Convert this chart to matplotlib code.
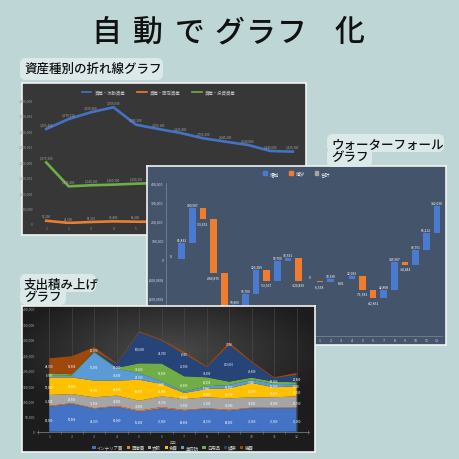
import numpy as np
import matplotlib.pyplot as plt
from matplotlib.patches import Patch, FancyBboxPatch
from matplotlib.lines import Line2D
from matplotlib.colors import LinearSegmentedColormap

plt.rcParams['font.family'] = ['Noto Sans CJK JP', 'DejaVu Sans']

# ── data ──────────────────────────────────────────────────────────────────────
months = list(range(1, 13))

# line chart (資産種別)
line_names = ['資産・流動資産', '資産・固定資産', '資産・投資資産']
asset_current = [3055420, 3375210, 3595880, 3755690, 3195300, 3055100,
                 2925400, 2755300, 2645200, 2540800, 2345600, 2325100]
asset_fixed = [95200, 25100, 55300, 75400, 65200, 60100,
               58300, 55200, 52100, 50400, 48200, 46300]
asset_invest = [1975300, 1205400, 1240100, 1260300, 1290200, 1310500,
                1330200, 1350400, 1360100, 1375300, 1390200, 1400100]

# waterfall (増加・減少)
wf_changes = [0, 85832, 180907, -59352, -280870, -226517, 59800, 56700,
              126289, -53567, 99700, 18591, -120839, 0, -6538, 18390,
              -801, 12983, -71581, -42831, 42808, 145907, -14443, 78791,
              86212, 142030]
wf_ticks = ['期首'] + [str(m) for m in months] + ['期首'] + [str(m) for m in months]
wf_legend = ['増加', '減少', '合計']

# stacked area (支出)
exp_names = ['インテリア費', '医療費', '衣服', '食費', '美容院', '日用品', '娯楽', '雑費']
interior = [81000, 90000, 74000, 81000, 65000, 76000, 68000, 74000, 68000, 76000, 76000, 76000]
medical = [3000, 2500, 2000, 3000, 3500, 4000, 2500, 2000, 3000, 2000, 1500, 2000]
clothes = [35000, 29500, 35500, 33000, 32000, 34700, 35500, 35500, 37000, 33500, 34000, 36700]
food = [57000, 54000, 54000, 48600, 68000, 40000, 19500, 27000, 32700, 46500, 32400, 32500]
beauty = [4700, 5800, 92000, 38000, 21700, 7500, 4400, 8700, 10800, 9700, 10900, 6500]
daily = [8700, 4300, 2100, 3200, 31400, 58500, 49800, 29200, 10800, 7600, 7500, 6500]
leisure = [0, 0, 2200, 13000, 100600, 74700, 72500, 32500, 119000, 49800, 10900, 23800]
misc = [48700, 58500, 12000, 2200, 3300, 3200, 6500, 3200, 7600, 3300, 3200, 6500]

title_chars = ['自', '動', 'で', 'グ', 'ラ', 'フ', '化']

# ── figure helpers (positions in pixels of the 460x460 canvas) ─────────────────
W = H = 460
BG = '#bed6d6'
BOX = '#dce9e9'
OFFICE = ['#4472C4', '#ED7D31', '#A5A5A5', '#FFC000',
          '#5B9BD5', '#70AD47', '#264478', '#9E480E']

fig = plt.figure(figsize=(4.6, 4.6), dpi=100)
fig.patch.set_facecolor(BG)


def px_axes(x0, y0, x1, y1, z):
    ax = fig.add_axes([x0 / W, 1 - y1 / H, (x1 - x0) / W, (y1 - y0) / H])
    ax.set_zorder(z)
    return ax


def panel(x0, y0, x1, y1, z, color):
    ax = px_axes(x0, y0, x1, y1, z)
    ax.set_facecolor(color)
    ax.set_xticks([])
    ax.set_yticks([])
    for s in ax.spines.values():
        s.set_color('#f2f2f2')
        s.set_linewidth(1.2)
    return ax


def plot_area(x0, y0, x1, y1, z):
    ax = px_axes(x0, y0, x1, y1, z)
    ax.patch.set_visible(False)
    for s in ax.spines.values():
        s.set_visible(False)
    return ax


def box(x0, y0, x1, y1):
    fig.patches.append(FancyBboxPatch(
        (x0 / W, 1 - y1 / H), (x1 - x0) / W, (y1 - y0) / H,
        boxstyle=f'round,pad=0,rounding_size={6 / W}', transform=fig.transFigure,
        fc=BOX, ec='none', zorder=19))


def caption(x, y, text, size=9):
    fig.text(x / W, 1 - y / H, text, fontsize=size, fontweight='medium',
             ha='left', va='center', color='#111111', zorder=21)


# ── title ─────────────────────────────────────────────────────────────────────
for ch, cx in zip(title_chars, [106, 148, 190, 229, 261, 292, 349]):
    fig.text(cx / W, 1 - 33 / H, ch, fontsize=21.5, ha='center', va='center',
             color='#111111', fontweight='medium')

# ── 1. line chart ─────────────────────────────────────────────────────────────
panel(22, 84, 306, 236, 1, '#373737')
ax1 = plot_area(35, 100.7, 304, 224.7, 1.5)
line_series = [asset_current, asset_fixed, asset_invest]
line_cols = ['#4472C4', '#ED7D31', '#70AD47']
for vals, col in zip(line_series, line_cols):
    ax1.plot(months, vals, color=col, lw=1.9, solid_joinstyle='round')
    for m, v in zip(months, vals):
        # labels that sit under the waterfall panel are not visible; skip them
        x_px = 35 + (m - 0.5) / 12 * 269
        y_px = 224.7 - v / 4000000 * 124
        if x_px > 140 and y_px > 160:
            continue
        ax1.annotate(f'{v:,}', (m, v), xytext=(0, 2.2), textcoords='offset points',
                     ha='center', va='bottom', fontsize=2.2, color='#a8a8a8')
ax1.set_xlim(0.5, 12.5)
ax1.set_ylim(0, 4000000)
ax1.set_xticks(months)
ax1.set_yticks(np.arange(0, 4000001, 500000))
ax1.set_yticklabels([f'{v:,}' for v in range(0, 4000001, 500000)])
ax1.tick_params(length=0, labelsize=2.4, colors='#9a9a9a', pad=1.5)
ax1.legend([Line2D([], [], color=c, lw=1.2) for c in line_cols], line_names,
           loc='center', bbox_to_anchor=(0.46, 1.065), ncol=3, fontsize=3.2,
           frameon=False, labelcolor='#bdbdbd', handlelength=2.2, columnspacing=2.5)

# ── 2. waterfall ──────────────────────────────────────────────────────────────
panel(147, 167, 446, 346, 2, '#44546A')
ax2 = plot_area(165.7, 183.5, 442.3, 337, 2.5)
chg = np.array(wf_changes)
cum = np.cumsum(chg)
start = cum - chg
pos = np.arange(len(chg))
cols = ['#4A7BD0' if c >= 0 else '#F07D2E' for c in chg]
ax2.bar(pos, chg, bottom=start, width=0.62, color=cols)
for p, c, e in zip(pos, chg, cum):
    txt = f'{c:,}'
    if c >= 0:
        ax2.annotate(txt, (p, e), xytext=(0, 1.2), textcoords='offset points',
                     ha='center', va='bottom', fontsize=2.4, color='white')
    else:
        ax2.annotate(txt, (p, e), xytext=(0, -1.2), textcoords='offset points',
                     ha='center', va='top', fontsize=2.4, color='white')
ax2.set_xlim(-0.5, len(chg) - 0.5)
ax2.set_ylim(-400000, 400000)
ax2.set_xticks(pos)
ax2.set_xticklabels(wf_ticks)
yt = np.arange(-400000, 400001, 100000)
ax2.set_yticks(yt)
ax2.set_yticklabels([f'({abs(v):,})' if v < 0 else f'{v:,}' for v in yt])
ax2.tick_params(length=0, labelsize=2.6, colors='#d8dde5', pad=1.5)
for side in ['left', 'bottom']:
    ax2.spines[side].set_visible(True)
    ax2.spines[side].set_color('#7d8a9c')
    ax2.spines[side].set_linewidth(0.5)
ax2.legend([Patch(color='#4A7BD0'), Patch(color='#F07D2E'), Patch(color='#A5A5A5')],
           wf_legend, loc='center', bbox_to_anchor=(0.475, 1.06), ncol=3,
           fontsize=3.4, frameon=False, labelcolor='white', handlelength=0.8,
           handleheight=0.8, handletextpad=0.6, columnspacing=2.0)

# ── 3. stacked area ───────────────────────────────────────────────────────────
bg3 = panel(22, 307, 315, 453, 3, '#2a2a2a')
gx, gy = np.meshgrid(np.linspace(-1, 1, 200), np.linspace(-1, 1, 200))
grad = 1 - np.clip(np.sqrt((gx * 0.9) ** 2 + ((gy - 0.35) * 1.1) ** 2), 0, 1)
dark = LinearSegmentedColormap.from_list('dk', ['#1d1d1d', '#4b4b4b'])
bg3.imshow(grad, extent=[0, 1, 0, 1], transform=bg3.transAxes, cmap=dark,
           aspect='auto', origin='lower', zorder=0)
ax3 = plot_area(36.9, 309.3, 309, 432.7, 3.5)
exp_series = [interior, medical, clothes, food, beauty, daily, leisure, misc]
ax3.stackplot(months, *exp_series, colors=OFFICE, labels=exp_names, lw=0)
base = np.zeros(12)
last_y = np.full(12, -1e9)
for vals in exp_series:
    v = np.array(vals)
    for i, (m, b, val) in enumerate(zip(months, base, v)):
        y = b + val / 2
        if val >= 6000 and y - last_y[i] > 16000:
            ax3.text(m, y, f'{val:,}', ha='center', va='center',
                     fontsize=2.0, color='white')
            last_y[i] = y
    base = base + v
ax3.set_xlim(0.45, 12.55)
ax3.set_ylim(0, 400000)
ax3.set_xticks(months)
ax3.set_xticks(np.arange(0.5, 13, 1), minor=True)
ax3.set_yticks(np.arange(0, 400001, 50000))
ax3.set_yticklabels([f'{v:,}' for v in range(0, 400001, 50000)])
ax3.tick_params(length=0, labelsize=2.5, colors='#a8a8a8', pad=1.5)
ax3.tick_params(which='minor', length=2.5, direction='inout', color='#8a8a8a', width=0.4)
ax3.grid(axis='x', color='#4d4d4d', lw=0.4)
ax3.set_axisbelow(True)
ax3.spines['bottom'].set_visible(True)
ax3.spines['bottom'].set_color('#8a8a8a')
ax3.spines['bottom'].set_linewidth(0.5)
ax3.set_xlabel('年月', fontsize=2.5, color='#a0a0a0', labelpad=1)
ax3.legend(loc='center', bbox_to_anchor=(0.5, -0.125), ncol=8, fontsize=3.2,
           frameon=False, labelcolor='#cfcfcf', handlelength=0.7, handleheight=0.7,
           handletextpad=0.3, columnspacing=0.8)

# ── panel captions ────────────────────────────────────────────────────────────
box(20, 59, 163, 81)
caption(24, 69, '資産種別の折れ線グラフ')
box(327, 135, 444, 153)
box(327, 149, 372, 168)
caption(331, 145, 'ウォーターフォール')
caption(331, 158, 'グラフ')
box(20, 275, 96, 293)
box(20, 289, 66, 306)
caption(24, 285, '支出積み上げ')
caption(24, 298, 'グラフ')

fig.savefig('out.png', dpi=100, facecolor=BG)
